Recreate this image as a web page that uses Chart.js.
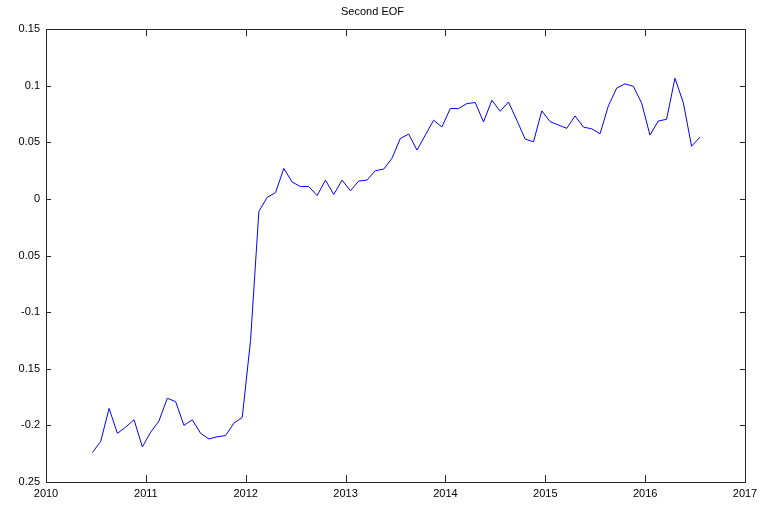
<!DOCTYPE html>
<html>
<head>
<meta charset="UTF-8">
<title>Second EOF</title>
<script src="https://cdn.jsdelivr.net/npm/chart.js@4.4.1/dist/chart.umd.min.js"></script>
<style>
  html, body { margin: 0; padding: 0; background: #fff; }
  #wrap { width: 769px; height: 507px; }
</style>
</head>
<body>
<div id="wrap"><canvas id="eof"></canvas></div>
<script>
// monthly samples, first one mid-2010
const startYear = 2010.465;
const eofValues = [
  -0.224, -0.214, -0.185, -0.207, -0.2015, -0.195, -0.219, -0.206, -0.196, -0.176,
  -0.179, -0.200, -0.195, -0.207, -0.212, -0.210, -0.209, -0.198, -0.193, -0.125,
  -0.011, 0.0015, 0.0056, 0.027, 0.015, 0.011, 0.011, 0.003, 0.0167, 0.004,
  0.0167, 0.0073, 0.0159, 0.0167, 0.025, 0.0264, 0.036, 0.0535, 0.0573, 0.0432,
  0.0564, 0.0696, 0.0637, 0.0799, 0.0799, 0.0843, 0.0852, 0.0681, 0.0872, 0.0775,
  0.0857, 0.0696, 0.053, 0.0505, 0.0778, 0.0683, 0.0653, 0.0624, 0.0734, 0.0635,
  0.062, 0.0576, 0.0823, 0.098, 0.1017, 0.0996, 0.0847, 0.0564, 0.0689, 0.0704,
  0.1067, 0.0853, 0.0466, 0.0546
];
const xTicks = [2010, 2011, 2012, 2013, 2014, 2015, 2016, 2017];
const yTicks = [0.15, 0.1, 0.05, 0, -0.05, -0.1, -0.15, -0.2, -0.25];
// labels as printed on the original figure (some minus signs are missing)
const yTickLabels = ['0.15', '0.1', '0.05', '0', '0.05', '-0.1', '0.15', '-0.2', '0.25'];

const points = eofValues.map((v, i) => ({ x: startYear + i / 12, y: v }));

const axisColor = '#262626';

// box round the plot + inward tick marks on all four sides
const boxPlugin = {
  id: 'box',
  afterDraw(chart) {
    const { ctx, chartArea: a, scales } = chart;
    ctx.save();
    ctx.strokeStyle = axisColor;
    ctx.lineWidth = 1;
    ctx.beginPath();
    xTicks.forEach(t => {
      const px = Math.round(scales.x.getPixelForValue(t)) + 0.5;
      ctx.moveTo(px, a.bottom); ctx.lineTo(px, a.bottom - 7);
      ctx.moveTo(px, a.top); ctx.lineTo(px, a.top + 7);
    });
    yTicks.forEach(t => {
      const py = Math.round(scales.y.getPixelForValue(t)) + 0.5;
      ctx.moveTo(a.left, py); ctx.lineTo(a.left + 5, py);
      ctx.moveTo(a.right, py); ctx.lineTo(a.right - 5, py);
    });
    ctx.stroke();
    ctx.strokeRect(Math.round(a.left) + 0.5, Math.round(a.top) + 0.5,
      Math.round(a.right - a.left), Math.round(a.bottom - a.top));
    ctx.restore();
  }
};

new Chart(document.getElementById('eof'), {
  type: 'line',
  data: {
    datasets: [{
      label: 'Second EOF',
      data: points,
      borderColor: '#0000ff',
      borderWidth: 1,
      pointRadius: 0,
      tension: 0,
      fill: false
    }]
  },
  options: {
    responsive: true,
    maintainAspectRatio: false,
    animation: false,
    layout: { padding: { left: 0, right: 24, top: 0, bottom: 0 } },
    plugins: {
      legend: { display: false },
      tooltip: { enabled: false },
      title: {
        display: true,
        text: 'Second EOF',
        color: '#000',
        font: { family: 'Liberation Sans', size: 11, weight: 'normal' },
        padding: { top: 5, bottom: 11 }
      }
    },
    scales: {
      x: {
        type: 'linear',
        min: 2010,
        max: 2017,
        afterBuildTicks: s => { s.ticks = xTicks.map(v => ({ value: v })); },
        afterFit: s => { s.height = 25; },
        grid: { display: false, drawTicks: false },
        border: { display: false },
        ticks: {
          color: '#000',
          padding: 5,
          maxRotation: 0,
          font: { family: 'Liberation Sans', size: 11 },
          callback: v => String(v)
        }
      },
      y: {
        type: 'linear',
        min: -0.25,
        max: 0.15,
        afterBuildTicks: s => { s.ticks = yTicks.map(v => ({ value: v })); },
        afterFit: s => { s.width = 46; },
        grid: { display: false, drawTicks: false },
        border: { display: false },
        ticks: {
          color: '#000',
          padding: 6,
          font: { family: 'Liberation Sans', size: 11 },
          callback: (v, i) => yTickLabels[i]
        }
      }
    }
  },
  plugins: [boxPlugin]
});
</script>
</body>
</html>
